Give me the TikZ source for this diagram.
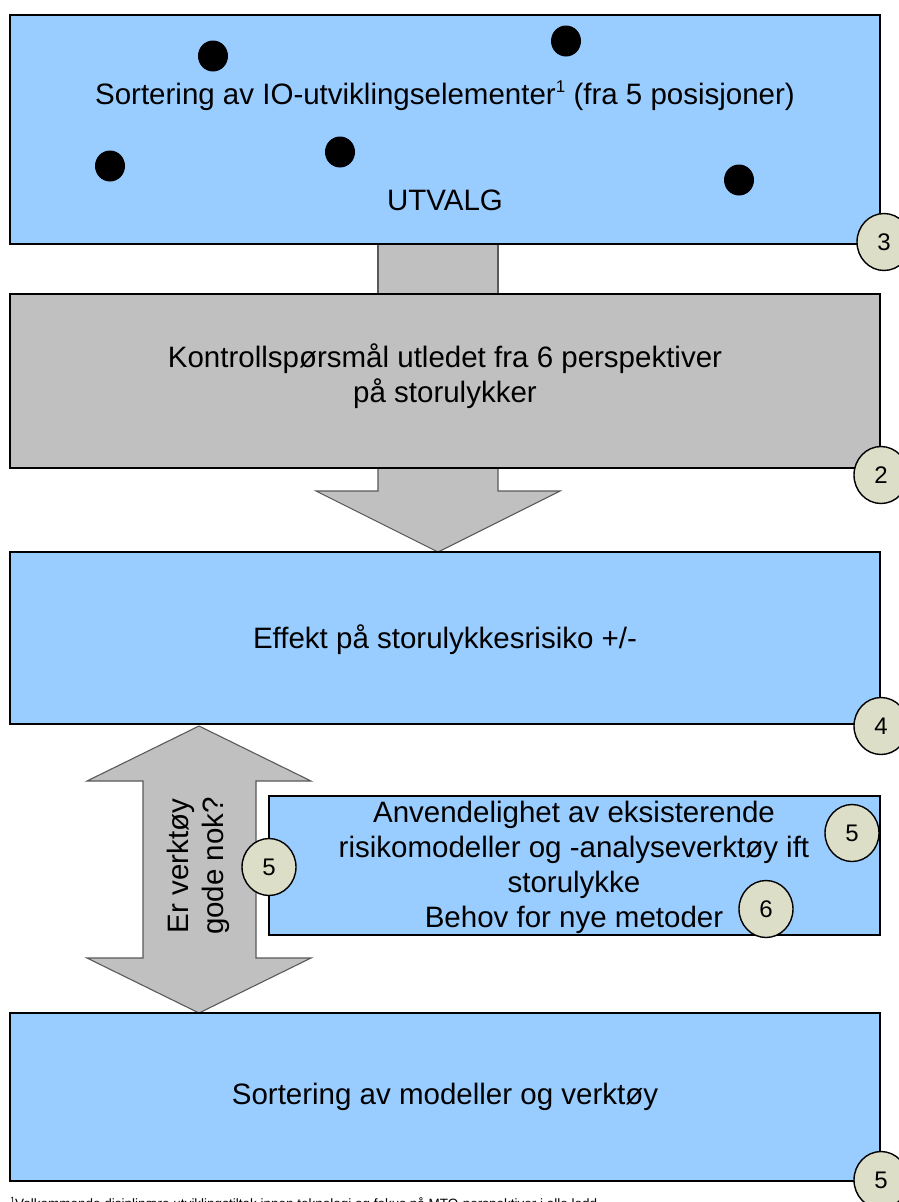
\documentclass[tikz,border=0pt]{standalone}
\usepackage{fontspec}
\setmainfont{Liberation Sans}
\usetikzlibrary{calc,shapes.geometric}
\definecolor{boxblue}{RGB}{153,204,255}
\definecolor{boxgray}{RGB}{192,192,192}
\definecolor{numfill}{RGB}{221,222,200}
\definecolor{arrowline}{RGB}{90,90,90}
\tikzset{
  bluebox/.style={draw=black, line width=1.6pt, fill=boxblue, inner sep=0pt},
  graybox/.style={draw=black, line width=1.6pt, fill=boxgray, inner sep=0pt},
  maintext/.style={font=\fontsize{29.5}{35}\selectfont, align=center, inner sep=0pt},
  numcircle/.style={ellipse, draw=black, line width=1.4pt, fill=numfill, minimum width=54pt, minimum height=57pt, inner sep=0pt, font=\fontsize{24}{26}\selectfont},
  dotmark/.style={ellipse, fill=black, minimum width=30pt, minimum height=31pt, inner sep=0pt},
  blockarrow/.style={draw=arrowline, line width=1.1pt, fill=boxgray, line join=miter},
}
\newcommand{\supone}{\raisebox{0.75ex}{\fontsize{17}{17}\selectfont 1}}
\begin{document}
\begin{tikzpicture}[x=1pt,y=-1pt]
\useasboundingbox (0,0) rectangle (899,1202);
\clip (0,0) rectangle (899,1202);
\fill[white] (0,0) rectangle (899,1202);

% connector bar between box 1 and box 2
\node[draw=arrowline, line width=1.1pt, fill=boxgray, minimum width=120pt, minimum height=50pt, inner sep=0pt] (bar) at (438,269) {};

% down block arrow from box 2 to box 3
\draw[blockarrow] (378,460) -- (378,491) -- (316,491) -- (438,552) -- (560,491) -- (498,491) -- (498,460) -- cycle;

% double block arrow between box 3 and box 5
\draw[blockarrow] (199,726) -- (311,781) -- (256,781) -- (256,958) -- (311,958) -- (199,1013) -- (87,958) -- (143,958) -- (143,781) -- (87,781) -- cycle;
\node[maintext, rotate=90] (q) at (198,866) {Er verktøy\\gode nok?};

% box 1
\node[bluebox, minimum width=870pt, minimum height=229pt] (b1) at (445,129.5) {};
\node[dotmark] (d1) at (213,56) {};
\node[dotmark] (d2) at (566,41) {};
\node[dotmark] (d3) at (110,166) {};
\node[dotmark] (d4) at (340,152) {};
\node[dotmark] (d5) at (739,180) {};
\node[maintext] (t1) at (445,96) {Sortering av IO-utviklingselementer\supone{} (fra 5 posisjoner)};
\node[maintext] (t1b) at (445,200) {UTVALG};

% box 2
\node[graybox, minimum width=870pt, minimum height=174pt] (b2) at (445,381) {};
\node[maintext] (t2) at (445,376) {Kontrollspørsmål utledet fra 6 perspektiver\\på storulykker};

% box 3
\node[bluebox, minimum width=870pt, minimum height=172pt] (b3) at (445,638) {};
\node[maintext] (t3) at (445,640) {Effekt på storulykkesrisiko +/-};

% box 4
\node[bluebox, minimum width=611pt, minimum height=139pt] (b4) at (574.5,865.5) {};
\node[maintext] (t4) at (574,867) {Anvendelighet av eksisterende\\risikomodeller og -analyseverktøy ift\\storulykke\\Behov for nye metoder};

% box 5
\node[bluebox, minimum width=870pt, minimum height=168pt] (b5) at (445,1097) {};
\node[maintext] (t5) at (445,1097) {Sortering av modeller og verktøy};

% number circles
\node[numcircle] (n3) at (884,242) {3};
\node[numcircle] (n2) at (881,475) {2};
\node[numcircle] (n4) at (881,726) {4};
\node[numcircle] (n5a) at (852,833) {5};
\node[numcircle] (n5b) at (269,867) {5};
\node[numcircle] (n6) at (766,909) {6};
\node[numcircle] (n5c) at (881,1180) {5};

% footnote (clipped at the bottom edge, as in the reference)
\node[anchor=base west, inner sep=0pt, font=\fontsize{13.5}{16}\selectfont] (fn) at (10,1208) {\raisebox{0.7ex}{\fontsize{9}{9}\selectfont 1}Velkommende disiplinære utviklingstiltak innen teknologi og fokus på MTO-perspektiver i alle ledd};
\end{tikzpicture}
\end{document}
